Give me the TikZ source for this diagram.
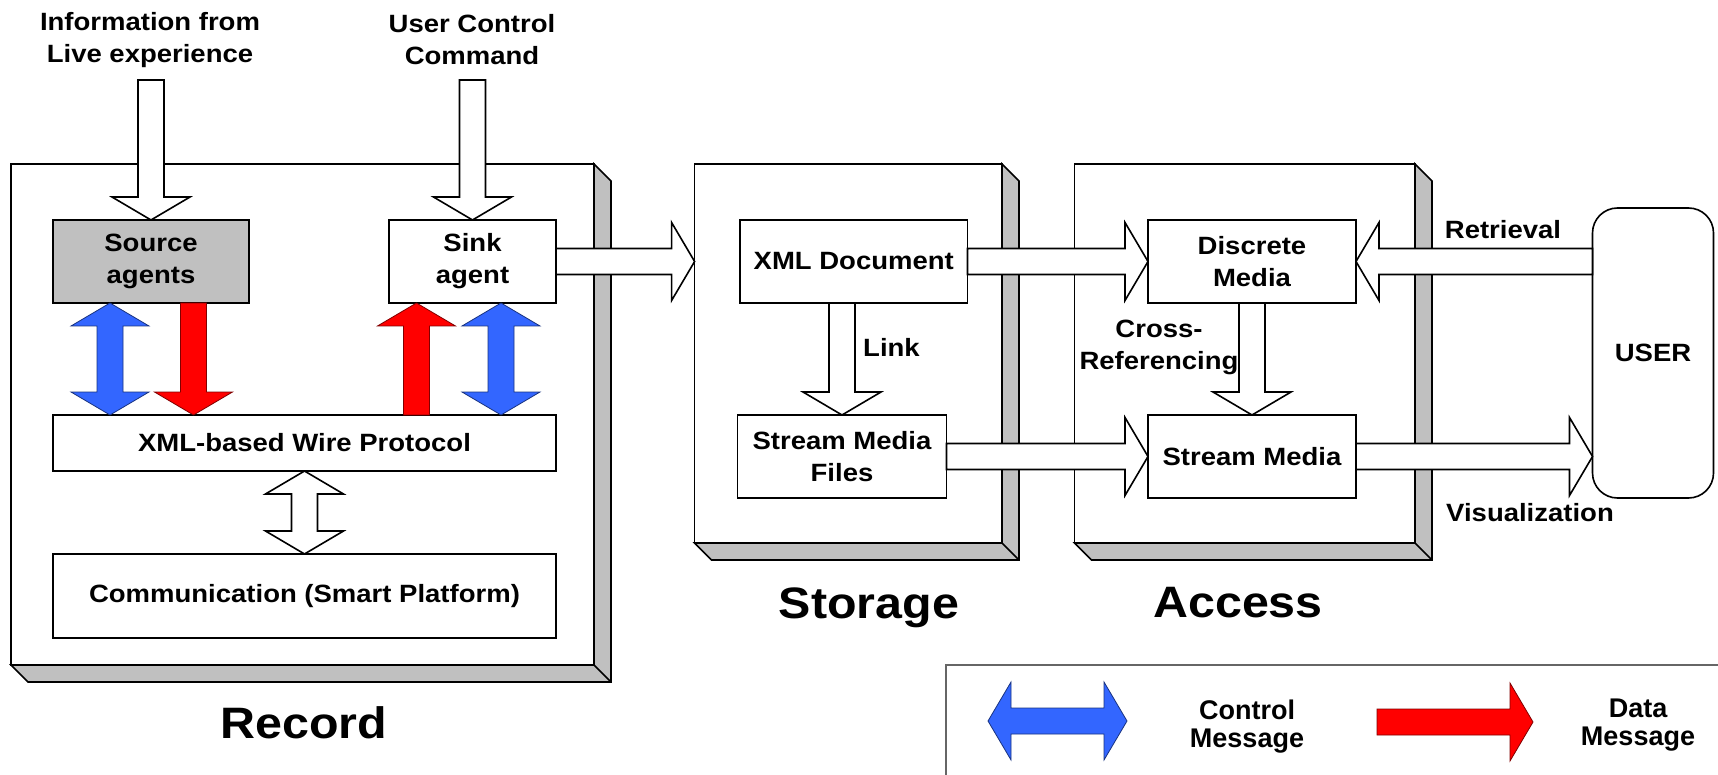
\documentclass[tikz,border=0pt]{standalone}
\usepackage{fontspec}
\setmainfont[FakeStretch=1.1]{Liberation Sans}
\newfontfamily\legendfont{Liberation Sans}
\usetikzlibrary{calc}
\definecolor{ctrlblue}{RGB}{51,102,255}
\definecolor{datared}{RGB}{255,0,0}
\definecolor{shadegray}{RGB}{192,192,192}
\tikzset{
  lbl/.style={font=\fontsize{25}{32}\selectfont\bfseries, align=center, inner sep=0pt},
  inbox/.style={draw, line width=1.6pt, fill=white, inner sep=0pt, outer sep=0pt, align=center, font=\fontsize{25}{32}\selectfont\bfseries},
  stage/.style={draw, line width=1.6pt, fill=white, inner sep=0pt, outer sep=0pt},
  stagelabel/.style={font=\fontsize{44}{50}\selectfont\bfseries, inner sep=0pt},
  legendtext/.style={font=\fontsize{27}{28}\selectfont\legendfont\bfseries, align=center, inner sep=0pt},
  shade/.style={draw, line width=1.6pt, fill=shadegray},
  hollow/.style={draw, line width=1.6pt, fill=white},
  ctrl/.style={draw=ctrlblue!50!black, line width=0.8pt, fill=ctrlblue},
  data/.style={draw=datared!50!black, line width=0.8pt, fill=datared},
}
% block arrow: #1 style, #2 from, #3 to, #4 number of heads
\newcommand\blockarrow[4][hollow]{%
  \path let \p1=(#2), \p2=(#3) in \pgfextra{%
    \pgfmathsetmacro\baang{atan2(\y2-\y1,\x2-\x1)}%
    \pgfmathsetmacro\balen{veclen(\x2-\x1,\y2-\y1)}%
    \global\let\baAng\baang \global\let\baLen\balen};
  \begin{scope}[shift={(#2)}, rotate=\baAng]
    \ifnum#4=1
      \draw[#1] (0pt,-13pt) -- ({\baLen pt-23pt},-13pt) -- ({\baLen pt-23pt},-39pt)
        -- (\baLen pt,0pt) -- ({\baLen pt-23pt},39pt) -- ({\baLen pt-23pt},13pt)
        -- (0pt,13pt) -- cycle;
    \else
      \draw[#1] (0pt,0pt) -- (23pt,-39pt) -- (23pt,-13pt) -- ({\baLen pt-23pt},-13pt)
        -- ({\baLen pt-23pt},-39pt) -- (\baLen pt,0pt) -- ({\baLen pt-23pt},39pt)
        -- ({\baLen pt-23pt},13pt) -- (23pt,13pt) -- (23pt,39pt) -- cycle;
    \fi
  \end{scope}}
\newcommand\slabshade[1]{%
  \draw[shade] (#1.north east) -- ++(17,17) -- ([shift={(17,17)}]#1.south east)
    -- ([shift={(17,17)}]#1.south west) -- (#1.south west) -- (#1.south east) -- cycle;
  \draw[line width=1.6pt] (#1.south east) -- ++(17,17);}
\begin{document}
\begin{tikzpicture}[x=1pt,y=-1pt,line join=miter]
\useasboundingbox (0,0) rectangle (1718,775);
\fill[white] (0,0) rectangle (1718,775);

% stages
\node[stage, minimum width=583pt, minimum height=501pt] (rec) at (302.5,414.5) {};
\slabshade{rec}
\node[stage, minimum width=307.4pt, minimum height=379pt] (sto) at (848.3,353.5) {};
\slabshade{sto}
\node[stage, minimum width=340.4pt, minimum height=379pt] (acc) at (1244.8,353.5) {};
\slabshade{acc}

% titles
\node[lbl] (t1) at (150,40) {Information from\\Live experience};
\node[lbl] (t2) at (472,40) {User Control\\Command};
\coordinate (in1) at (0,80);

% record boxes
\node[inbox, fill=shadegray, minimum width=196pt, minimum height=83pt] (src) at (151,261.5) {Source\\agents};
\node[inbox, minimum width=167pt, minimum height=83pt] (sink) at (472.5,261.5) {Sink\\agent};
\node[inbox, minimum width=503pt, minimum height=56pt] (wire) at (304.5,443) {XML-based Wire Protocol};
\node[inbox, minimum width=503pt, minimum height=84pt] (comm) at (304.5,596) {Communication (Smart Platform)};

% storage / access boxes
\node[inbox, minimum width=227.5pt, minimum height=83pt] (xml) at (853.75,261.5) {XML Document};
\node[inbox, minimum width=209pt, minimum height=83pt] (smf) at (842,456.5) {Stream Media\\Files};
\node[inbox, minimum width=208pt, minimum height=83pt] (disc) at (1252,261.5) {Discrete\\Media};
\node[inbox, minimum width=208pt, minimum height=83pt] (sm) at (1252,456.5) {Stream Media};
\node[inbox, rounded corners=25pt, minimum width=121pt, minimum height=290pt] (user) at (1653,353) {USER};

% arrows in record
\blockarrow[hollow]{src.north |- in1}{src.north}{1}
\blockarrow[hollow]{sink.north |- in1}{sink.north}{1}
\coordinate (cb1) at (110,0);
\coordinate (cr1) at (193.5,0);
\coordinate (cr2) at (416.5,0);
\coordinate (cb2) at (501,0);
\blockarrow[ctrl]{cb1 |- src.south}{cb1 |- wire.north}{2}
\blockarrow[data]{cr1 |- src.south}{cr1 |- wire.north}{1}
\blockarrow[data]{cr2 |- wire.north}{cr2 |- sink.south}{1}
\blockarrow[ctrl]{cb2 |- sink.south}{cb2 |- wire.north}{2}
\blockarrow[hollow]{wire.south}{comm.north}{2}

% flow arrows
\blockarrow[hollow]{sink.east}{sto.west |- sink.east}{1}
\blockarrow[hollow]{xml.east}{disc.west}{1}
\blockarrow[hollow]{smf.east}{sm.west}{1}
\blockarrow[hollow]{smf.north |- xml.south}{smf.north}{1}
\blockarrow[hollow]{disc.south}{sm.north}{1}
\blockarrow[hollow]{user.west |- disc.east}{disc.east}{1}
\blockarrow[hollow]{sm.east}{user.west |- sm.east}{1}

% labels
\node[lbl, anchor=west] (link) at (863,347) {Link};
\node[lbl] (xref) at (1159,347) {Cross-\\Referencing};
\node[lbl] (retr) at (1503,230) {Retrieval};
\node[lbl] (vis) at (1530,513) {Visualization};
\node[stagelabel] (recl) at (304,723) {Record};
\node[stagelabel] (stol) at (869,608) {Storage};
\node[stagelabel] (accl) at (1238,603) {Access};

% legend
\draw[line width=1.3pt, draw=black!60] (1718,665) -- (946,665) -- (946,775);
\coordinate (lb1) at (988,721);
\coordinate (lb2) at (1127,721);
\blockarrow[ctrl]{lb1}{lb2}{2}
\coordinate (lr1) at (1377,722);
\coordinate (lr2) at (1533,722);
\blockarrow[data]{lr1}{lr2}{1}
\node[legendtext] (ctl) at (1247,727) {Control\\Message};
\node[legendtext] (dtl) at (1638,725) {Data\\Message};
\end{tikzpicture}
\end{document}
